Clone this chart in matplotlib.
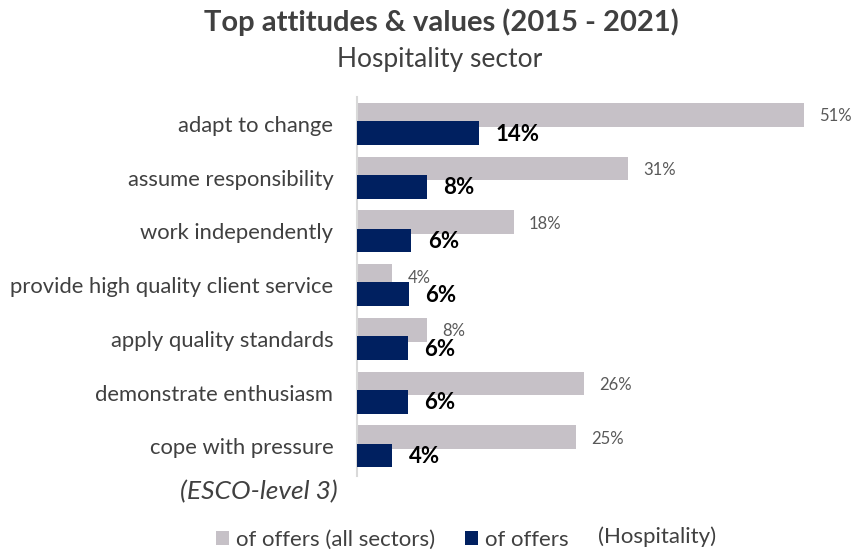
import matplotlib
matplotlib.use("Agg")
import matplotlib.pyplot as plt
from matplotlib.patches import Patch

categories = ["adapt to change", "assume responsibility", "work independently",
              "provide high quality client service", "apply quality standards",
              "demonstrate enthusiasm", "cope with pressure"]
all_sectors = [51.1, 31.0, 17.9, 4.0, 8.0, 25.9, 25.0]
hospitality = [13.9, 8.0, 6.2, 5.9, 5.8, 5.8, 4.0]
series_names = ["of offers (all sectors)", "of offers"]

GREY = "#C6C1C7"
NAVY = "#002060"
TXT = "#404040"

plt.rcParams['font.family'] = ['Lato', 'DejaVu Sans']

fig = plt.figure(figsize=(8.51, 5.5), dpi=100)
W, H = 851, 550
ax_l, ax_r, ax_t, ax_b = 357, 830, 97, 476
ax = fig.add_axes([ax_l / W, 1 - ax_b / H, (ax_r - ax_l) / W, (ax_b - ax_t) / H])

y = list(range(len(categories)))
off = 0.17
h = 0.44
ax.barh([v - off for v in y], all_sectors, height=h, color=GREY, zorder=2)
ax.barh([v + off for v in y], hospitality, height=h, color=NAVY, zorder=3)

for i, (a, b) in enumerate(zip(all_sectors, hospitality)):
    ax.text(a + 1.75, i - off + 0.03, f"{round(a):.0f}%", va="center", ha="left",
            fontsize=12, color="#595959", zorder=4)
    ax.text(b + 1.9, i + off + 0.02, f"{round(b):.0f}%", va="center", ha="left",
            fontsize=16, fontweight="bold", color="black", zorder=4)

ax.set_ylim(len(categories) - 0.45, -0.5)
ax.set_xlim(0, (ax_r - ax_l) / 8.75)
ax.set_yticks(y)
ax.set_yticklabels(categories, fontsize=15.8, color=TXT)
ax.tick_params(axis="y", length=0, pad=17)
ax.set_xticks([])
for s in ["top", "right", "bottom"]:
    ax.spines[s].set_visible(False)
ax.spines["left"].set_color("#D9D9D9")
ax.spines["left"].set_linewidth(1.5)

fig.text(441 / W, 1 - 22 / H, "Top attitudes & values (2015 - 2021)", ha="center", va="center",
         fontsize=21, fontweight="bold", color=TXT)
fig.text(440 / W, 1 - 59 / H, "Hospitality sector", ha="center", va="center",
         fontsize=19, color=TXT)
fig.text(338 / W, 1 - 492 / H, "(ESCO-level 3)", ha="right", va="center",
         fontsize=19, style="italic", color=TXT)

handles = [Patch(facecolor=GREY, label=series_names[0]),
           Patch(facecolor=NAVY, label=series_names[1])]
fig.legend(handles=handles, loc="center left", bbox_to_anchor=(216 / W, 1 - 540 / H),
           ncol=2, frameon=False, fontsize=16, labelcolor=TXT, handlelength=0.6,
           handleheight=0.6, handletextpad=0.3, columnspacing=1.35, borderaxespad=0,
           borderpad=0)
fig.text(598 / W, 1 - 537 / H, "(Hospitality)", ha="left", va="center", fontsize=16, color=TXT)

fig.savefig("out.png", dpi=100)
